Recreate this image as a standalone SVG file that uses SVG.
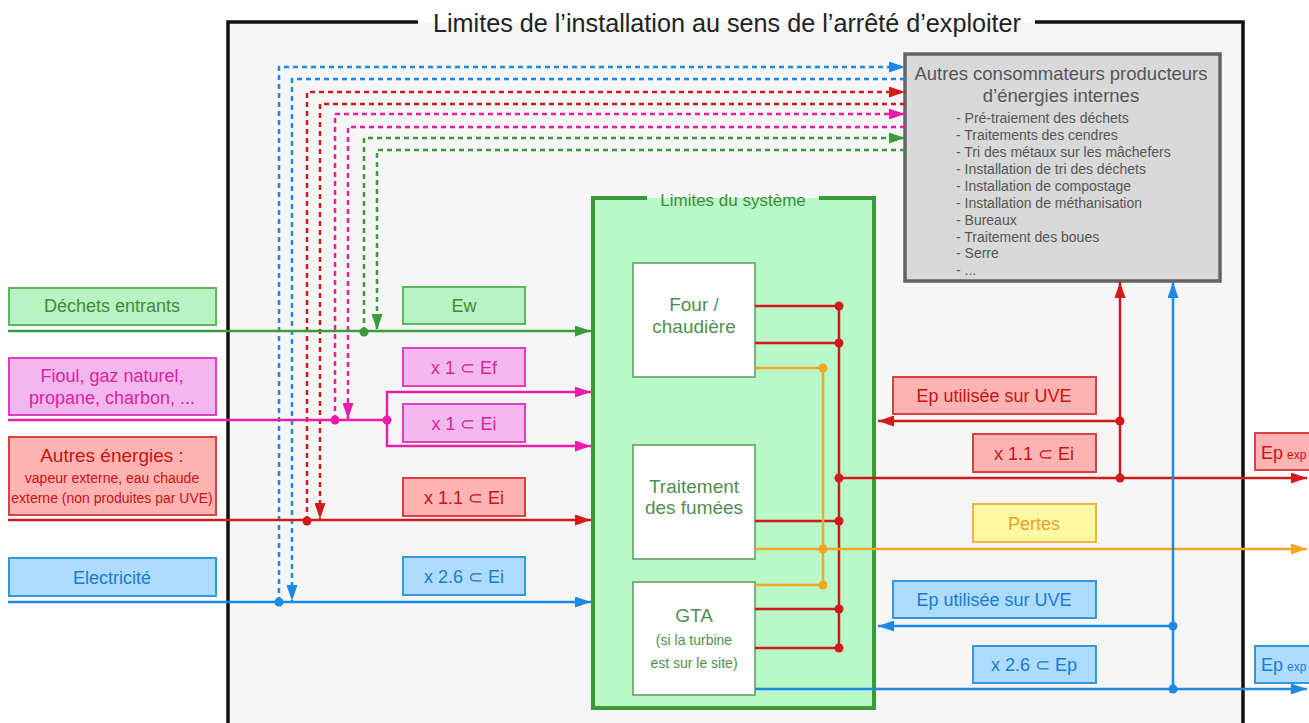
<svg xmlns="http://www.w3.org/2000/svg" width="1309" height="723" viewBox="0 0 1309 723">
  <style>
    text { font-family: "Liberation Sans", Arial, sans-serif; }
    .c { text-anchor: middle; }
    .lg { font-size: 18px; }
    .sm { font-size: 14px; }
    .ln { fill: none; stroke-width: 2.5; }
    .dash { fill: none; stroke-width: 2.5; stroke-dasharray: 5 4; }
    .g { stroke: #3c9b3c; }
    .m { stroke: #e91ea8; }
    .r { stroke: #d11a1a; }
    .b { stroke: #1e88e5; }
    .o { stroke: #f5a623; }
    .bx-g { fill: #b9f2c3; stroke: #5cb85c; stroke-width: 2; }
    .bx-m { fill: #f2b8ee; stroke: #e040c0; stroke-width: 2; }
    .bx-r { fill: #ffb3b3; stroke: #d9423f; stroke-width: 2; }
    .bx-b { fill: #aedcff; stroke: #3399dd; stroke-width: 2; }
    .bx-y { fill: #fff9a6; stroke: #f5b342; stroke-width: 2; }
    .t-g { fill: #3d8b3d; }
    .t-m { fill: #e0209f; }
    .t-r { fill: #cc1111; }
    .t-b { fill: #1a7bd1; }
    .t-y { fill: #eda12a; }
    .unit { fill: #ffffff; stroke: #5a9a5a; stroke-width: 1.5; }
    .t-u { fill: #4f8f4f; }
  </style>
  <defs>
    <marker id="ah-g" markerUnits="userSpaceOnUse" markerWidth="17" markerHeight="11" refX="16" refY="5.5" orient="auto"><path d="M0,0 L16,5.5 L0,11 z" fill="#3c9b3c"/></marker>
    <marker id="ah-m" markerUnits="userSpaceOnUse" markerWidth="17" markerHeight="11" refX="16" refY="5.5" orient="auto"><path d="M0,0 L16,5.5 L0,11 z" fill="#e91ea8"/></marker>
    <marker id="ah-r" markerUnits="userSpaceOnUse" markerWidth="17" markerHeight="11" refX="16" refY="5.5" orient="auto"><path d="M0,0 L16,5.5 L0,11 z" fill="#d11a1a"/></marker>
    <marker id="ah-b" markerUnits="userSpaceOnUse" markerWidth="17" markerHeight="11" refX="16" refY="5.5" orient="auto"><path d="M0,0 L16,5.5 L0,11 z" fill="#1e88e5"/></marker>
    <marker id="ah-o" markerUnits="userSpaceOnUse" markerWidth="17" markerHeight="11" refX="16" refY="5.5" orient="auto"><path d="M0,0 L16,5.5 L0,11 z" fill="#f5a623"/></marker>
  </defs>

  <rect width="1309" height="723" fill="#ffffff"/>

  <!-- installation boundary -->
  <g id="installation">
    <rect x="228" y="22" width="1015" height="720" fill="#f6f6f6"/>
    <path d="M418,22 H228 V742 M1035,22 H1243 V742" fill="none" stroke="#111" stroke-width="3.5"/>
    <text x="727" y="32" class="c" font-size="25.2" fill="#222">Limites de l’installation au sens de l’arrêté d’exploiter</text>
  </g>

  <!-- system boundary -->
  <g id="systeme">
    <rect x="593" y="198" width="281" height="510" fill="#b9f9c8"/>
    <path d="M647,198 H593 V708 H874 V198 H819" fill="none" stroke="#3a9a3a" stroke-width="4"/>
    <text x="733" y="206" class="c" font-size="17" fill="#3d8b3d">Limites du système</text>
  </g>

  <g id="four">
    <rect class="unit" x="633" y="263" width="122" height="114"/>
    <text class="c t-u" x="694" y="311" font-size="19">Four /</text>
    <text class="c t-u" x="694" y="333" font-size="19">chaudière</text>
  </g>
  <g id="fumees">
    <rect class="unit" x="633" y="445" width="122" height="114"/>
    <text class="c t-u" x="694" y="493" font-size="19">Traitement</text>
    <text class="c t-u" x="694" y="514" font-size="19">des fumées</text>
  </g>
  <g id="gta">
    <rect class="unit" x="633" y="582" width="122" height="113"/>
    <text class="c t-u" x="694" y="622" font-size="19">GTA</text>
    <text class="c t-u sm" x="694" y="645">(si la turbine</text>
    <text class="c t-u sm" x="694" y="668">est sur le site)</text>
  </g>

  <g id="autres-consommateurs">
    <rect x="905" y="54" width="315" height="227" fill="#d9d9d9" stroke="#646464" stroke-width="3.5"/>
    <text class="c" x="1061" y="80" font-size="18.5" fill="#555">Autres consommateurs producteurs</text>
    <text class="c" x="1061" y="102" font-size="18.5" fill="#555">d’énergies internes</text>
    <g font-size="14" fill="#555">
      <text x="956" y="123">- Pré-traiement des déchets</text>
      <text x="956" y="140">- Traitements des cendres</text>
      <text x="956" y="157">- Tri des métaux sur les mâchefers</text>
      <text x="956" y="174">- Installation de tri des déchets</text>
      <text x="956" y="191">- Installation de compostage</text>
      <text x="956" y="208">- Installation de méthanisation</text>
      <text x="956" y="225">- Bureaux</text>
      <text x="956" y="242">- Traitement des boues</text>
      <text x="956" y="258">- Serre</text>
      <text x="956" y="275">- ...</text>
    </g>
  </g>

  <!-- connectors -->
  <g id="connecteurs">
    <!-- exchanges with the internal consumers -->
    <path class="dash b" d="M279,602 V67 H905" marker-end="url(#ah-b)"/>
    <path class="dash b" d="M905,79 H292 V601" marker-end="url(#ah-b)"/>
    <path class="dash r" d="M307,521 V92 H905" marker-end="url(#ah-r)"/>
    <path class="dash r" d="M905,104 H320 V519" marker-end="url(#ah-r)"/>
    <path class="dash m" d="M335,420 V114 H905" marker-end="url(#ah-m)"/>
    <path class="dash m" d="M905,127 H348 V419" marker-end="url(#ah-m)"/>
    <path class="dash g" d="M364,332 V138 H905" marker-end="url(#ah-g)"/>
    <path class="dash g" d="M905,150 H377 V330" marker-end="url(#ah-g)"/>

    <!-- incoming energies -->
    <path class="ln g" d="M8,331 H591" marker-end="url(#ah-g)"/>
    <path class="ln m" d="M8,420 H387"/>
    <path class="ln m" d="M387,420 V392 H591" marker-end="url(#ah-m)"/>
    <path class="ln m" d="M387,420 V446 H591" marker-end="url(#ah-m)"/>
    <path class="ln r" d="M8,520 H591" marker-end="url(#ah-r)"/>
    <path class="ln b" d="M8,602 H591" marker-end="url(#ah-b)"/>

    <!-- internal collectors -->
    <path class="ln r" d="M755,306 H839 M755,343 H839 M755,521 H839 M755,609 H839 M755,648 H839 M839,306 V648"/>
    <path class="ln o" d="M755,368 H823 V585 H755"/>
    <path class="ln o" d="M755,549 H1307" marker-end="url(#ah-o)"/>
    <path class="ln r" d="M839,478 H1307" marker-end="url(#ah-r)"/>
    <path class="ln r" d="M1120,478 V282" marker-end="url(#ah-r)"/>
    <path class="ln r" d="M1120,421 H878" marker-end="url(#ah-r)"/>
    <path class="ln b" d="M755,689 H1307" marker-end="url(#ah-b)"/>
    <path class="ln b" d="M1173,689 V282" marker-end="url(#ah-b)"/>
    <path class="ln b" d="M1173,626 H878" marker-end="url(#ah-b)"/>

    <!-- junction dots -->
    <circle cx="279" cy="602" r="4.5" fill="#1e88e5"/>
    <circle cx="307" cy="521" r="4.5" fill="#d11a1a"/>
    <circle cx="335" cy="420" r="4.5" fill="#e91ea8"/>
    <circle cx="387" cy="420" r="4.5" fill="#e91ea8"/>
    <circle cx="364" cy="332" r="4.5" fill="#3c9b3c"/>
    <g fill="#d11a1a">
      <circle cx="839" cy="306" r="4.5"/>
      <circle cx="839" cy="343" r="4.5"/>
      <circle cx="839" cy="478" r="4.5"/>
      <circle cx="839" cy="521" r="4.5"/>
      <circle cx="839" cy="609" r="4.5"/>
      <circle cx="839" cy="648" r="4.5"/>
      <circle cx="1120" cy="421" r="4.5"/>
      <circle cx="1120" cy="478" r="4.5"/>
    </g>
    <g fill="#f5a623">
      <circle cx="823" cy="368" r="4.5"/>
      <circle cx="823" cy="549" r="4.5"/>
      <circle cx="823" cy="585" r="4.5"/>
    </g>
    <circle cx="1173" cy="626" r="4.5" fill="#1e88e5"/>
    <circle cx="1173" cy="689" r="4.5" fill="#1e88e5"/>
  </g>

  <!-- input labels -->
  <g id="dechets-entrants">
    <rect class="bx-g" x="9" y="288" width="207" height="37"/>
    <text class="c lg t-g" x="112" y="312">Déchets entrants</text>
  </g>
  <g id="fossiles">
    <rect class="bx-m" x="9" y="358" width="207" height="57"/>
    <text class="c lg t-m" x="112" y="382">Fioul, gaz naturel,</text>
    <text class="c lg t-m" x="112" y="404">propane, charbon, ...</text>
  </g>
  <g id="autres-energies">
    <rect class="bx-r" x="9" y="437" width="207" height="78"/>
    <text class="c t-r" x="112" y="462" font-size="19">Autres énergies :</text>
    <text class="c sm t-r" x="112" y="483">vapeur externe, eau chaude</text>
    <text class="c sm t-r" x="112" y="503">externe (non produites par UVE)</text>
  </g>
  <g id="electricite">
    <rect class="bx-b" x="9" y="558" width="207" height="38"/>
    <text class="c lg t-b" x="112" y="584">Electricité</text>
  </g>

  <!-- coefficients -->
  <g id="ew">
    <rect class="bx-g" x="403" y="287" width="122" height="37"/>
    <text class="c lg t-g" x="464" y="312">Ew</text>
  </g>
  <g id="coef-ef">
    <rect class="bx-m" x="403" y="348" width="122" height="38"/>
    <text class="c lg t-m" x="464" y="374">x 1 ⊂ Ef</text>
  </g>
  <g id="coef-ei-fossile">
    <rect class="bx-m" x="403" y="404" width="122" height="38"/>
    <text class="c lg t-m" x="464" y="430">x 1 ⊂ Ei</text>
  </g>
  <g id="coef-ei-chaleur">
    <rect class="bx-r" x="403" y="478" width="122" height="38"/>
    <text class="c lg t-r" x="464" y="504">x 1.1 ⊂ Ei</text>
  </g>
  <g id="coef-ei-elec">
    <rect class="bx-b" x="403" y="557" width="122" height="38"/>
    <text class="c lg t-b" x="464" y="583">x 2.6 ⊂ Ei</text>
  </g>

  <!-- output labels -->
  <g id="ep-chaleur-uve">
    <rect class="bx-r" x="893" y="377" width="203" height="37"/>
    <text class="c lg t-r" x="994" y="402">Ep utilisée sur UVE</text>
  </g>
  <g id="coef-ep-chaleur">
    <rect class="bx-r" x="973" y="434" width="123" height="38"/>
    <text class="c lg t-r" x="1034" y="460">x 1.1 ⊂ Ei</text>
  </g>
  <g id="ep-chaleur-export">
    <rect class="bx-r" x="1255" y="433" width="60" height="37"/>
    <text class="t-r" x="1261" y="459"><tspan font-size="18">Ep</tspan><tspan font-size="12" dx="4">exp</tspan></text>
  </g>
  <g id="pertes">
    <rect class="bx-y" x="973" y="504" width="123" height="38"/>
    <text class="c lg t-y" x="1034" y="530">Pertes</text>
  </g>
  <g id="ep-elec-uve">
    <rect class="bx-b" x="893" y="581" width="203" height="37"/>
    <text class="c lg t-b" x="994" y="606">Ep utilisée sur UVE</text>
  </g>
  <g id="coef-ep-elec">
    <rect class="bx-b" x="973" y="646" width="123" height="37"/>
    <text class="c lg t-b" x="1034" y="671">x 2.6 ⊂ Ep</text>
  </g>
  <g id="ep-elec-export">
    <rect class="bx-b" x="1255" y="646" width="60" height="37"/>
    <text class="t-b" x="1261" y="671"><tspan font-size="18">Ep</tspan><tspan font-size="12" dx="4">exp</tspan></text>
  </g>
</svg>
